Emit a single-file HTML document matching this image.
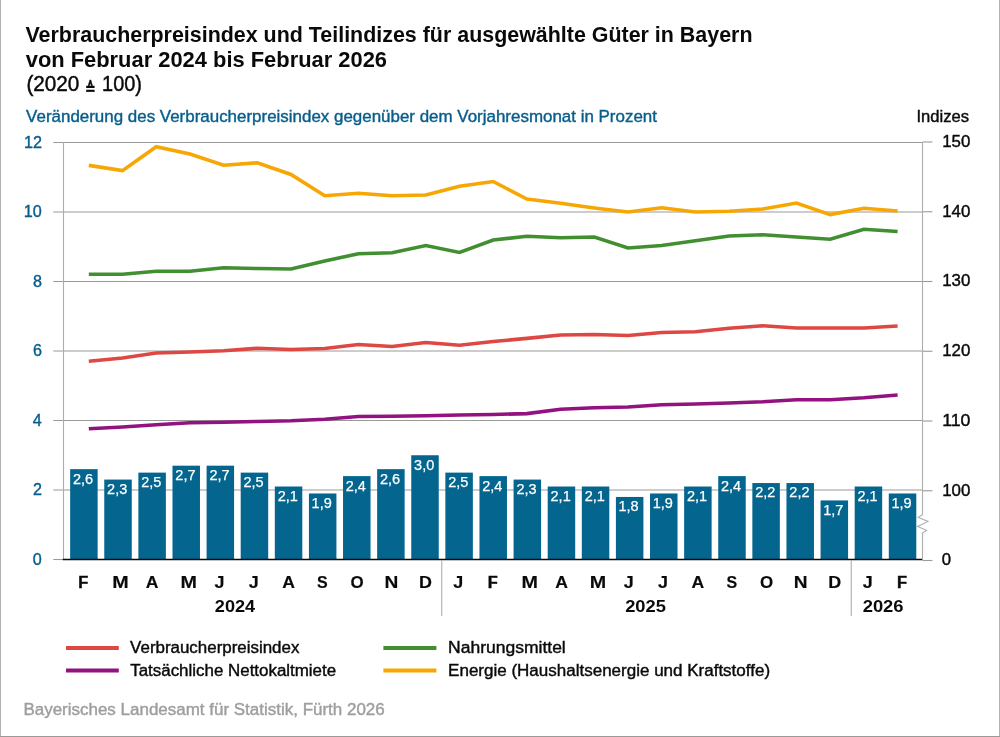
<!DOCTYPE html>
<html lang="de"><head><meta charset="utf-8"><title>Verbraucherpreisindex Bayern</title>
<style>html,body{margin:0;padding:0;background:#fff}body{width:1000px;height:737px;overflow:hidden}svg{display:block}text{font-family:"Liberation Sans",sans-serif}.b{font-weight:bold}</style></head><body>
<svg width="1000" height="737" viewBox="0 0 1000 737">
<rect x="0" y="0" width="1000" height="737" fill="#fff"/>
<rect x="0" y="0" width="1" height="737" fill="#b0b0b0"/><rect x="999" y="0" width="1" height="737" fill="#b2b2b2"/><rect x="0" y="736" width="1000" height="1" fill="#9a9a98"/>
<text x="25.45" y="41.50" font-size="22.5" fill="#0a0a0a" class="b" textLength="727.08" lengthAdjust="spacingAndGlyphs">Verbraucherpreisindex und Teilindizes für ausgewählte Güter in Bayern</text>
<text x="25.71" y="66.50" font-size="22.5" fill="#0a0a0a" class="b" textLength="361.28" lengthAdjust="spacingAndGlyphs">von Februar 2024 bis Februar 2026</text>
<text y="91.4" font-size="21.6" fill="#0a0a0a" stroke="#0a0a0a" stroke-width="0.45"><tspan x="26.42" textLength="52.99" lengthAdjust="spacingAndGlyphs">(2020</tspan> <tspan x="84.9" y="93.5" font-size="16.7" textLength="10.7" lengthAdjust="spacingAndGlyphs" stroke-width="0.45" style="font-family:'DejaVu Sans',sans-serif;font-weight:bold">≙</tspan> <tspan x="102.08" y="91.4" textLength="39.85" lengthAdjust="spacingAndGlyphs">100)</tspan></text>
<text x="26.13" y="121.60" font-size="16.7" fill="#075e8c" textLength="630.80" lengthAdjust="spacingAndGlyphs" stroke="#075e8c" stroke-width="0.4">Veränderung des Verbraucherpreisindex gegenüber dem Vorjahresmonat in Prozent</text>
<text x="916.47" y="121.60" font-size="16.0" fill="#0a0a0a" textLength="52.53" lengthAdjust="spacingAndGlyphs" stroke="#0a0a0a" stroke-width="0.4">Indizes</text>
<line x1="53.3" x2="922.5" y1="490.0" y2="490.0" stroke="#9a9a9a" stroke-width="1.1"/>
<line x1="53.3" x2="922.5" y1="420.5" y2="420.5" stroke="#9a9a9a" stroke-width="1.1"/>
<line x1="53.3" x2="922.5" y1="351.0" y2="351.0" stroke="#9a9a9a" stroke-width="1.1"/>
<line x1="53.3" x2="922.5" y1="281.5" y2="281.5" stroke="#9a9a9a" stroke-width="1.1"/>
<line x1="53.3" x2="922.5" y1="212.0" y2="212.0" stroke="#9a9a9a" stroke-width="1.1"/>
<line x1="53.3" x2="922.5" y1="142.5" y2="142.5" stroke="#9a9a9a" stroke-width="1.1"/>
<line x1="922.5" x2="932.4" y1="560.50" y2="560.50" stroke="#9a9a9a" stroke-width="1.1"/>
<line x1="922.5" x2="932.4" y1="490.75" y2="490.75" stroke="#9a9a9a" stroke-width="1.1"/>
<line x1="922.5" x2="932.4" y1="421.00" y2="421.00" stroke="#9a9a9a" stroke-width="1.1"/>
<line x1="922.5" x2="932.4" y1="351.25" y2="351.25" stroke="#9a9a9a" stroke-width="1.1"/>
<line x1="922.5" x2="932.4" y1="281.50" y2="281.50" stroke="#9a9a9a" stroke-width="1.1"/>
<line x1="922.5" x2="932.4" y1="211.75" y2="211.75" stroke="#9a9a9a" stroke-width="1.1"/>
<line x1="922.5" x2="932.4" y1="142.00" y2="142.00" stroke="#9a9a9a" stroke-width="1.1"/>
<line x1="63.5" x2="63.5" y1="142.0" y2="559.5" stroke="#adadad" stroke-width="1.1"/>
<path d="M922.5 142.0V514.6L918.2 517.4L928 521.4L917.6 526.4L926.6 530.3L922.5 533V560.5" fill="none" stroke="#adadad" stroke-width="1.1"/>
<line x1="53.3" x2="63.5" y1="559.5" y2="559.5" stroke="#9a9a9a" stroke-width="1.1"/>
<rect x="70.15" y="469.15" width="27.5" height="90.35" fill="#04668f"/>
<rect x="104.26" y="479.57" width="27.5" height="79.93" fill="#04668f"/>
<rect x="138.37" y="472.62" width="27.5" height="86.88" fill="#04668f"/>
<rect x="172.48" y="465.68" width="27.5" height="93.82" fill="#04668f"/>
<rect x="206.59" y="465.68" width="27.5" height="93.82" fill="#04668f"/>
<rect x="240.70" y="472.62" width="27.5" height="86.88" fill="#04668f"/>
<rect x="274.81" y="486.52" width="27.5" height="72.98" fill="#04668f"/>
<rect x="308.92" y="493.48" width="27.5" height="66.02" fill="#04668f"/>
<rect x="343.03" y="476.10" width="27.5" height="83.40" fill="#04668f"/>
<rect x="377.14" y="469.15" width="27.5" height="90.35" fill="#04668f"/>
<rect x="411.25" y="455.25" width="27.5" height="104.25" fill="#04668f"/>
<rect x="445.36" y="472.62" width="27.5" height="86.88" fill="#04668f"/>
<rect x="479.47" y="476.10" width="27.5" height="83.40" fill="#04668f"/>
<rect x="513.58" y="479.57" width="27.5" height="79.93" fill="#04668f"/>
<rect x="547.69" y="486.52" width="27.5" height="72.98" fill="#04668f"/>
<rect x="581.80" y="486.52" width="27.5" height="72.98" fill="#04668f"/>
<rect x="615.91" y="496.95" width="27.5" height="62.55" fill="#04668f"/>
<rect x="650.02" y="493.48" width="27.5" height="66.02" fill="#04668f"/>
<rect x="684.13" y="486.52" width="27.5" height="72.98" fill="#04668f"/>
<rect x="718.24" y="476.10" width="27.5" height="83.40" fill="#04668f"/>
<rect x="752.35" y="483.05" width="27.5" height="76.45" fill="#04668f"/>
<rect x="786.46" y="483.05" width="27.5" height="76.45" fill="#04668f"/>
<rect x="820.57" y="500.43" width="27.5" height="59.07" fill="#04668f"/>
<rect x="854.68" y="486.52" width="27.5" height="72.98" fill="#04668f"/>
<rect x="888.79" y="493.48" width="27.5" height="66.02" fill="#04668f"/>
<line x1="62.8" x2="922.1" y1="559.5" y2="559.5" stroke="#0a0a0a" stroke-width="1.7"/>
<text x="72.96" y="483.55" font-size="15.2" fill="#fff" textLength="20.18" lengthAdjust="spacingAndGlyphs" stroke="#fff" stroke-width="0.25">2,6</text>
<text x="107.07" y="493.97" font-size="15.2" fill="#fff" textLength="20.18" lengthAdjust="spacingAndGlyphs" stroke="#fff" stroke-width="0.25">2,3</text>
<text x="141.17" y="487.02" font-size="15.2" fill="#fff" textLength="20.18" lengthAdjust="spacingAndGlyphs" stroke="#fff" stroke-width="0.25">2,5</text>
<text x="175.34" y="480.07" font-size="15.2" fill="#fff" textLength="20.18" lengthAdjust="spacingAndGlyphs" stroke="#fff" stroke-width="0.25">2,7</text>
<text x="209.45" y="480.07" font-size="15.2" fill="#fff" textLength="20.18" lengthAdjust="spacingAndGlyphs" stroke="#fff" stroke-width="0.25">2,7</text>
<text x="243.50" y="487.02" font-size="15.2" fill="#fff" textLength="20.18" lengthAdjust="spacingAndGlyphs" stroke="#fff" stroke-width="0.25">2,5</text>
<text x="277.66" y="500.92" font-size="15.2" fill="#fff" textLength="20.18" lengthAdjust="spacingAndGlyphs" stroke="#fff" stroke-width="0.25">2,1</text>
<text x="311.57" y="507.88" font-size="15.2" fill="#fff" textLength="20.18" lengthAdjust="spacingAndGlyphs" stroke="#fff" stroke-width="0.25">1,9</text>
<text x="345.74" y="490.50" font-size="15.2" fill="#fff" textLength="20.18" lengthAdjust="spacingAndGlyphs" stroke="#fff" stroke-width="0.25">2,4</text>
<text x="379.95" y="483.55" font-size="15.2" fill="#fff" textLength="20.18" lengthAdjust="spacingAndGlyphs" stroke="#fff" stroke-width="0.25">2,6</text>
<text x="414.12" y="469.65" font-size="15.2" fill="#fff" textLength="20.18" lengthAdjust="spacingAndGlyphs" stroke="#fff" stroke-width="0.25">3,0</text>
<text x="448.16" y="487.02" font-size="15.2" fill="#fff" textLength="20.18" lengthAdjust="spacingAndGlyphs" stroke="#fff" stroke-width="0.25">2,5</text>
<text x="482.18" y="490.50" font-size="15.2" fill="#fff" textLength="20.18" lengthAdjust="spacingAndGlyphs" stroke="#fff" stroke-width="0.25">2,4</text>
<text x="516.39" y="493.97" font-size="15.2" fill="#fff" textLength="20.18" lengthAdjust="spacingAndGlyphs" stroke="#fff" stroke-width="0.25">2,3</text>
<text x="550.54" y="500.92" font-size="15.2" fill="#fff" textLength="20.18" lengthAdjust="spacingAndGlyphs" stroke="#fff" stroke-width="0.25">2,1</text>
<text x="584.65" y="500.92" font-size="15.2" fill="#fff" textLength="20.18" lengthAdjust="spacingAndGlyphs" stroke="#fff" stroke-width="0.25">2,1</text>
<text x="618.53" y="511.35" font-size="15.2" fill="#fff" textLength="20.18" lengthAdjust="spacingAndGlyphs" stroke="#fff" stroke-width="0.25">1,8</text>
<text x="652.67" y="507.88" font-size="15.2" fill="#fff" textLength="20.18" lengthAdjust="spacingAndGlyphs" stroke="#fff" stroke-width="0.25">1,9</text>
<text x="686.98" y="500.92" font-size="15.2" fill="#fff" textLength="20.18" lengthAdjust="spacingAndGlyphs" stroke="#fff" stroke-width="0.25">2,1</text>
<text x="720.95" y="490.50" font-size="15.2" fill="#fff" textLength="20.18" lengthAdjust="spacingAndGlyphs" stroke="#fff" stroke-width="0.25">2,4</text>
<text x="755.21" y="497.45" font-size="15.2" fill="#fff" textLength="20.18" lengthAdjust="spacingAndGlyphs" stroke="#fff" stroke-width="0.25">2,2</text>
<text x="789.32" y="497.45" font-size="15.2" fill="#fff" textLength="20.18" lengthAdjust="spacingAndGlyphs" stroke="#fff" stroke-width="0.25">2,2</text>
<text x="823.24" y="514.83" font-size="15.2" fill="#fff" textLength="20.18" lengthAdjust="spacingAndGlyphs" stroke="#fff" stroke-width="0.25">1,7</text>
<text x="857.53" y="500.92" font-size="15.2" fill="#fff" textLength="20.18" lengthAdjust="spacingAndGlyphs" stroke="#fff" stroke-width="0.25">2,1</text>
<text x="891.44" y="507.88" font-size="15.2" fill="#fff" textLength="20.18" lengthAdjust="spacingAndGlyphs" stroke="#fff" stroke-width="0.25">1,9</text>
<polyline points="88.80,428.75 122.50,427.00 156.20,424.75 189.90,422.75 223.60,422.25 257.30,421.50 291.00,420.75 324.70,419.25 358.40,416.50 392.10,416.25 425.80,415.75 459.50,415.00 493.20,414.50 526.90,413.60 560.60,409.25 594.30,407.75 628.00,407.00 661.70,404.75 695.40,404.00 729.10,403.00 762.80,401.75 796.50,399.75 830.20,399.75 863.90,397.75 897.60,395.00" fill="none" stroke="#92137f" stroke-width="3.6" stroke-linejoin="miter" stroke-linecap="butt"/>
<polyline points="88.80,361.25 122.50,358.00 156.20,353.00 189.90,352.00 223.60,350.75 257.30,348.25 291.00,349.50 324.70,348.50 358.40,344.50 392.10,346.50 425.80,342.50 459.50,345.25 493.20,341.50 526.90,338.40 560.60,335.00 594.30,334.50 628.00,335.50 661.70,332.50 695.40,331.75 729.10,328.25 762.80,325.75 796.50,328.00 830.20,328.00 863.90,328.00 897.60,326.00" fill="none" stroke="#de4843" stroke-width="3.6" stroke-linejoin="miter" stroke-linecap="butt"/>
<polyline points="88.80,274.25 122.50,274.25 156.20,271.25 189.90,271.25 223.60,267.75 257.30,268.50 291.00,269.00 324.70,261.00 358.40,253.75 392.10,252.75 425.80,245.50 459.50,252.50 493.20,240.00 526.90,236.25 560.60,237.75 594.30,237.00 628.00,248.00 661.70,245.50 695.40,240.75 729.10,236.00 762.80,234.75 796.50,237.00 830.20,239.25 863.90,229.25 897.60,231.50" fill="none" stroke="#418f31" stroke-width="3.6" stroke-linejoin="miter" stroke-linecap="butt"/>
<polyline points="88.80,165.40 122.50,170.60 156.20,146.70 189.90,154.00 223.60,165.25 257.30,162.75 291.00,174.50 324.70,195.75 358.40,193.25 392.10,195.75 425.80,195.00 459.50,186.25 493.20,181.50 526.90,199.00 560.60,203.30 594.30,208.00 628.00,212.00 661.70,207.70 695.40,212.00 729.10,211.30 762.80,209.00 796.50,203.00 830.20,214.60 863.90,208.25 897.60,211.00" fill="none" stroke="#f6a704" stroke-width="3.6" stroke-linejoin="miter" stroke-linecap="butt"/>
<text x="32.84" y="564.60" font-size="16.5" fill="#075e8c" textLength="8.99" lengthAdjust="spacingAndGlyphs" stroke="#075e8c" stroke-width="0.4">0</text>
<text x="33.02" y="495.10" font-size="16.5" fill="#075e8c" textLength="8.99" lengthAdjust="spacingAndGlyphs" stroke="#075e8c" stroke-width="0.4">2</text>
<text x="32.68" y="425.60" font-size="16.5" fill="#075e8c" textLength="8.99" lengthAdjust="spacingAndGlyphs" stroke="#075e8c" stroke-width="0.4">4</text>
<text x="32.92" y="356.10" font-size="16.5" fill="#075e8c" textLength="8.99" lengthAdjust="spacingAndGlyphs" stroke="#075e8c" stroke-width="0.4">6</text>
<text x="32.91" y="286.60" font-size="16.5" fill="#075e8c" textLength="8.99" lengthAdjust="spacingAndGlyphs" stroke="#075e8c" stroke-width="0.4">8</text>
<text x="23.85" y="217.10" font-size="16.5" fill="#075e8c" textLength="17.99" lengthAdjust="spacingAndGlyphs" stroke="#075e8c" stroke-width="0.4">10</text>
<text x="24.03" y="147.60" font-size="16.5" fill="#075e8c" textLength="17.99" lengthAdjust="spacingAndGlyphs" stroke="#075e8c" stroke-width="0.4">12</text>
<text x="941.65" y="564.60" font-size="16.5" fill="#0a0a0a" textLength="9.31" lengthAdjust="spacingAndGlyphs" stroke="#0a0a0a" stroke-width="0.4">0</text>
<text x="942.22" y="495.90" font-size="16.5" fill="#0a0a0a" textLength="28.14" lengthAdjust="spacingAndGlyphs" stroke="#0a0a0a" stroke-width="0.4">100</text>
<text x="942.15" y="426.08" font-size="16.5" fill="#0a0a0a" textLength="28.24" lengthAdjust="spacingAndGlyphs" stroke="#0a0a0a" stroke-width="0.4">110</text>
<text x="942.22" y="356.26" font-size="16.5" fill="#0a0a0a" textLength="28.14" lengthAdjust="spacingAndGlyphs" stroke="#0a0a0a" stroke-width="0.4">120</text>
<text x="942.22" y="286.44" font-size="16.5" fill="#0a0a0a" textLength="28.14" lengthAdjust="spacingAndGlyphs" stroke="#0a0a0a" stroke-width="0.4">130</text>
<text x="942.22" y="216.62" font-size="16.5" fill="#0a0a0a" textLength="28.14" lengthAdjust="spacingAndGlyphs" stroke="#0a0a0a" stroke-width="0.4">140</text>
<text x="942.22" y="146.80" font-size="16.5" fill="#0a0a0a" textLength="28.14" lengthAdjust="spacingAndGlyphs" stroke="#0a0a0a" stroke-width="0.4">150</text>
<text x="78.36" y="587.80" font-size="16.3" fill="#0a0a0a" class="b" textLength="9.99" lengthAdjust="spacingAndGlyphs" stroke="#0a0a0a" stroke-width="0.45">F</text>
<text x="112.19" y="587.80" font-size="16.3" fill="#0a0a0a" class="b" textLength="16.44" lengthAdjust="spacingAndGlyphs" stroke="#0a0a0a" stroke-width="0.15">M</text>
<text x="145.88" y="587.80" font-size="16.3" fill="#0a0a0a" class="b" textLength="12.70" lengthAdjust="spacingAndGlyphs" stroke="#0a0a0a" stroke-width="0.15">A</text>
<text x="180.41" y="587.80" font-size="16.3" fill="#0a0a0a" class="b" textLength="16.44" lengthAdjust="spacingAndGlyphs" stroke="#0a0a0a" stroke-width="0.15">M</text>
<text x="214.57" y="587.80" font-size="16.3" fill="#0a0a0a" class="b" textLength="10.00" lengthAdjust="spacingAndGlyphs" stroke="#0a0a0a" stroke-width="0.15">J</text>
<text x="248.68" y="587.80" font-size="16.3" fill="#0a0a0a" class="b" textLength="10.00" lengthAdjust="spacingAndGlyphs" stroke="#0a0a0a" stroke-width="0.15">J</text>
<text x="282.32" y="587.80" font-size="16.3" fill="#0a0a0a" class="b" textLength="12.70" lengthAdjust="spacingAndGlyphs" stroke="#0a0a0a" stroke-width="0.15">A</text>
<text x="317.11" y="587.80" font-size="16.3" fill="#0a0a0a" class="b" textLength="10.69" lengthAdjust="spacingAndGlyphs" stroke="#0a0a0a" stroke-width="0.15">S</text>
<text x="350.64" y="587.80" font-size="16.3" fill="#0a0a0a" class="b" textLength="13.15" lengthAdjust="spacingAndGlyphs" stroke="#0a0a0a" stroke-width="0.15">O</text>
<text x="384.41" y="587.80" font-size="16.3" fill="#0a0a0a" class="b" textLength="13.82" lengthAdjust="spacingAndGlyphs" stroke="#0a0a0a" stroke-width="0.15">N</text>
<text x="418.90" y="587.80" font-size="16.3" fill="#0a0a0a" class="b" textLength="12.95" lengthAdjust="spacingAndGlyphs" stroke="#0a0a0a" stroke-width="0.15">D</text>
<text x="453.34" y="587.80" font-size="16.3" fill="#0a0a0a" class="b" textLength="10.00" lengthAdjust="spacingAndGlyphs" stroke="#0a0a0a" stroke-width="0.15">J</text>
<text x="487.68" y="587.80" font-size="16.3" fill="#0a0a0a" class="b" textLength="9.99" lengthAdjust="spacingAndGlyphs" stroke="#0a0a0a" stroke-width="0.45">F</text>
<text x="521.51" y="587.80" font-size="16.3" fill="#0a0a0a" class="b" textLength="16.44" lengthAdjust="spacingAndGlyphs" stroke="#0a0a0a" stroke-width="0.15">M</text>
<text x="555.20" y="587.80" font-size="16.3" fill="#0a0a0a" class="b" textLength="12.70" lengthAdjust="spacingAndGlyphs" stroke="#0a0a0a" stroke-width="0.15">A</text>
<text x="589.73" y="587.80" font-size="16.3" fill="#0a0a0a" class="b" textLength="16.44" lengthAdjust="spacingAndGlyphs" stroke="#0a0a0a" stroke-width="0.15">M</text>
<text x="623.89" y="587.80" font-size="16.3" fill="#0a0a0a" class="b" textLength="10.00" lengthAdjust="spacingAndGlyphs" stroke="#0a0a0a" stroke-width="0.15">J</text>
<text x="658.00" y="587.80" font-size="16.3" fill="#0a0a0a" class="b" textLength="10.00" lengthAdjust="spacingAndGlyphs" stroke="#0a0a0a" stroke-width="0.15">J</text>
<text x="691.64" y="587.80" font-size="16.3" fill="#0a0a0a" class="b" textLength="12.70" lengthAdjust="spacingAndGlyphs" stroke="#0a0a0a" stroke-width="0.15">A</text>
<text x="726.43" y="587.80" font-size="16.3" fill="#0a0a0a" class="b" textLength="10.69" lengthAdjust="spacingAndGlyphs" stroke="#0a0a0a" stroke-width="0.15">S</text>
<text x="759.96" y="587.80" font-size="16.3" fill="#0a0a0a" class="b" textLength="13.15" lengthAdjust="spacingAndGlyphs" stroke="#0a0a0a" stroke-width="0.15">O</text>
<text x="793.73" y="587.80" font-size="16.3" fill="#0a0a0a" class="b" textLength="13.82" lengthAdjust="spacingAndGlyphs" stroke="#0a0a0a" stroke-width="0.15">N</text>
<text x="828.22" y="587.80" font-size="16.3" fill="#0a0a0a" class="b" textLength="12.95" lengthAdjust="spacingAndGlyphs" stroke="#0a0a0a" stroke-width="0.15">D</text>
<text x="862.66" y="587.80" font-size="16.3" fill="#0a0a0a" class="b" textLength="10.00" lengthAdjust="spacingAndGlyphs" stroke="#0a0a0a" stroke-width="0.15">J</text>
<text x="897.00" y="587.80" font-size="16.3" fill="#0a0a0a" class="b" textLength="9.99" lengthAdjust="spacingAndGlyphs" stroke="#0a0a0a" stroke-width="0.45">F</text>
<text x="214.82" y="611.80" font-size="16.3" fill="#0a0a0a" class="b" textLength="40.33" lengthAdjust="spacingAndGlyphs">2024</text>
<text x="625.17" y="611.80" font-size="16.3" fill="#0a0a0a" class="b" textLength="40.74" lengthAdjust="spacingAndGlyphs">2025</text>
<text x="862.66" y="611.80" font-size="16.3" fill="#0a0a0a" class="b" textLength="40.90" lengthAdjust="spacingAndGlyphs">2026</text>
<line x1="441.75" x2="441.75" y1="560" y2="616" stroke="#adadad" stroke-width="1.1"/>
<line x1="851.25" x2="851.25" y1="560" y2="616" stroke="#adadad" stroke-width="1.1"/>
<line x1="66" x2="118.8" y1="648.0" y2="648.0" stroke="#de4843" stroke-width="3.8"/>
<text x="130.13" y="652.70" font-size="16.0" fill="#0a0a0a" textLength="169.26" lengthAdjust="spacingAndGlyphs" stroke="#0a0a0a" stroke-width="0.4">Verbraucherpreisindex</text>
<line x1="66" x2="118.8" y1="670.5" y2="670.5" stroke="#92137f" stroke-width="3.8"/>
<text x="130.22" y="675.90" font-size="16.0" fill="#0a0a0a" textLength="205.93" lengthAdjust="spacingAndGlyphs" stroke="#0a0a0a" stroke-width="0.4">Tatsächliche Nettokaltmiete</text>
<line x1="383.4" x2="436.4" y1="648.0" y2="648.0" stroke="#418f31" stroke-width="3.8"/>
<text x="448.06" y="652.70" font-size="16.0" fill="#0a0a0a" textLength="117.71" lengthAdjust="spacingAndGlyphs" stroke="#0a0a0a" stroke-width="0.4">Nahrungsmittel</text>
<line x1="383.4" x2="436.4" y1="670.5" y2="670.5" stroke="#f6a704" stroke-width="3.8"/>
<text x="448.11" y="675.90" font-size="16.0" fill="#0a0a0a" textLength="321.95" lengthAdjust="spacingAndGlyphs" stroke="#0a0a0a" stroke-width="0.4">Energie (Haushaltsenergie und Kraftstoffe)</text>
<text x="23.41" y="715.00" font-size="16.0" fill="#9e9e9e" textLength="361.34" lengthAdjust="spacingAndGlyphs" stroke="#9e9e9e" stroke-width="0.4">Bayerisches Landesamt für Statistik, Fürth 2026</text>
</svg></body></html>
